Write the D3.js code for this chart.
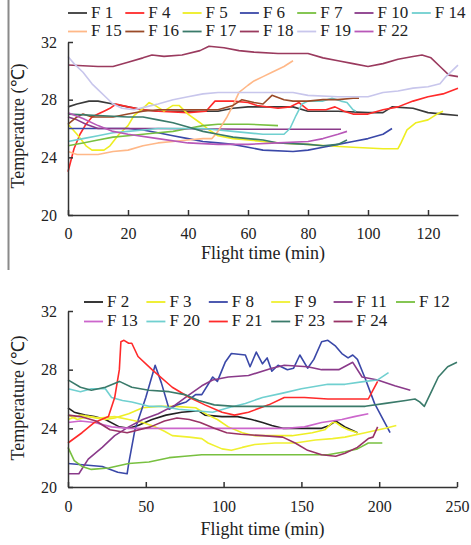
<!DOCTYPE html>
<html><head><meta charset="utf-8">
<script src="https://cdn.jsdelivr.net/npm/d3@7"></script>
<style>body{margin:0;background:#fff}svg{display:block}text{font-family:"Liberation Serif","Times New Roman",serif;fill:#222}</style>
</head><body><svg id="c" width="471" height="545"></svg>
<script>
// ---------- data (minutes, °C) ----------
const yTicks = [20, 24, 28, 32];
const topXTicks = [0, 20, 40, 60, 80, 100, 120];
const botXTicks = [0, 50, 100, 150, 200, 250];

const f1 = [[0,27.5],[3,27.7],[7,27.9],[10,27.9],[15,27.7],[20,27.5],[25,27.3],[30,27.2],[40,27.2],[50,27.2],[55,27.4],[60,27.5],[70,27.5],[75,27.5],[80,27.2],[90,27.2],[100,27.1],[105,27.1],[108,27.5],[115,27.4],[120,27.1],[125,27.0],[130,26.9]];
const f4 = [[0,23.0],[1,23.8],[2,24.6],[4,25.6],[6,26.3],[8,26.8],[10,27.0],[12,27.2],[14,27.4],[16,27.7],[20,27.5],[25,27.3],[30,27.2],[40,27.1],[46,27.2],[49,27.9],[55,27.9],[60,27.8],[63,27.6],[70,27.4],[74,27.5],[77,27.8],[80,27.3],[86,27.3],[89,27.5],[92,27.2],[95,27.0],[100,27.0],[105,27.3],[110,27.5],[115,27.9],[120,28.2],[125,28.4],[130,28.8]];
const f5 = [[0,26.3],[3,25.6],[6,24.8],[8,24.5],[12,24.5],[14,24.8],[17,25.6],[20,26.2],[22,26.9],[25,27.4],[27,27.8],[29,27.6],[32,27.2],[35,27.6],[37,27.6],[40,27.0],[44,26.4],[47,25.9],[50,25.5],[55,25.3],[60,25.2],[65,25.1],[70,25.0],[80,24.9],[86,24.8],[95,24.7],[105,24.6],[110,24.6],[111,25.0],[113,25.9],[116,26.4],[120,26.6],[123,27.0],[125,27.2]];
const f6 = [[0,26.0],[20,26.0],[25,25.9],[30,25.7],[35,25.5],[40,25.3],[45,25.1],[50,25.0],[55,24.9],[60,24.7],[65,24.5],[75,24.4],[80,24.5],[85,24.7],[90,24.9],[95,25.1],[100,25.3],[105,25.6],[108,26.0]];
const f7 = [[0,24.8],[5,25.0],[10,25.2],[15,25.4],[20,25.5],[25,25.6],[30,25.7],[35,25.8],[40,26.0],[45,26.2],[50,26.3],[60,26.3],[70,26.2]];
const f10 = [[0,26.8],[3,26.6],[6,26.3],[10,26.0],[30,26.0],[60,25.95],[91,25.95]];
const f14 = [[0,25.1],[5,25.3],[10,25.5],[15,25.7],[20,25.8],[25,25.9],[30,26.0],[45,26.0],[55,25.8],[65,25.6],[72,25.6],[74,26.0],[76,26.9],[78,27.7],[80,27.9],[85,27.9],[88,28.1],[91,27.9],[93,27.8],[95,27.3],[96,27.2]];
const f15 = [[0,24.4],[3,24.2],[10,24.2],[15,24.4],[20,24.5],[25,24.8],[30,25.0],[35,25.1],[40,25.2],[45,25.3],[48,25.3],[50,25.8],[53,26.8],[55,27.6],[57,28.5],[60,29.0],[62,29.3],[65,29.6],[68,29.9],[72,30.3],[75,30.7]];
const f16 = [[0,26.3],[3,26.8],[5,27.0],[8,26.8],[15,26.8],[20,27.0],[25,27.2],[30,27.3],[50,27.3],[55,27.6],[58,28.0],[62,27.8],[65,27.7],[68,28.3],[72,28.0],[75,27.9],[80,27.9],[85,28.0],[90,28.0],[95,28.1],[97,28.1]];
const f17 = [[0,27.0],[10,26.9],[20,26.8],[25,26.8],[30,26.6],[35,26.4],[40,26.1],[45,25.8],[50,25.6],[55,25.4],[60,25.3],[65,25.2],[70,25.0],[80,24.9],[85,24.8],[90,24.9],[93,25.2]];
const f18 = [[0,30.4],[10,30.3],[15,30.3],[20,30.6],[25,30.9],[28,31.1],[32,31.0],[38,31.1],[44,31.4],[47,31.7],[52,31.6],[57,31.4],[62,31.3],[70,31.2],[80,31.2],[85,30.9],[90,30.7],[95,30.5],[100,30.3],[105,30.5],[110,30.8],[115,31.0],[118,31.1],[121,30.9],[124,30.3],[127,29.7],[130,29.6]];
const f19 = [[0,31.0],[2,30.5],[5,29.9],[8,29.1],[10,28.7],[13,28.1],[15,27.7],[18,27.4],[22,27.3],[26,27.5],[30,27.7],[35,28.0],[40,28.2],[45,28.4],[50,28.5],[60,28.5],[75,28.5],[80,28.3],[90,28.2],[100,28.2],[105,28.5],[110,28.6],[115,28.8],[120,28.9],[124,29.1],[126,29.6],[128,30.0],[130,30.4]];
const f22 = [[0,27.1],[5,26.7],[10,26.2],[15,25.8],[20,25.6],[30,25.3],[40,25.0],[50,24.9],[60,24.9],[70,25.0],[80,25.1],[85,25.3],[90,25.6],[93,25.8]];

const f2 = [[0,25.4],[4,25.1],[11,24.9],[17,24.8],[24,24.6],[33,24.1],[39,24.0],[45,24.2],[54,24.6],[63,24.9],[73,25.1],[84,25.2],[88,24.9],[99,24.8],[109,24.8],[118,24.6],[125,24.4],[131,24.2],[138,24.0],[150,24.0],[163,24.0],[168,24.2],[172,24.5],[178,24.1],[184,23.8],[186,23.7]];
const f3 = [[0,24.9],[6,24.6],[13,24.8],[24,24.6],[30,24.7],[39,25.0],[48,25.4],[58,25.5],[69,25.5],[82,25.4],[90,24.9],[96,24.6],[103,24.1],[112,23.7],[120,23.5],[131,23.5],[144,23.5],[157,23.7],[165,23.9],[170,24.4],[172,24.4],[176,24.1],[180,23.9],[186,23.7]];
const f8 = [[0,21.6],[22,21.4],[32,21.0],[38,20.9],[39,21.6],[43,23.9],[50,26.1],[56,28.3],[60,27.1],[65,25.3],[70,25.6],[76,25.8],[82,26.3],[86,26.3],[93,27.5],[96,27.2],[101,28.5],[105,29.1],[114,29.0],[117,28.2],[121,29.2],[125,28.4],[128,28.8],[131,27.9],[135,28.3],[141,28.0],[145,28.1],[149,29.0],[154,28.1],[158,28.7],[163,29.9],[167,30.0],[172,29.6],[176,29.1],[180,28.8],[183,29.0],[186,28.7],[191,27.4],[197,25.7],[207,23.7]];
const f9 = [[0,24.6],[8,24.9],[20,24.7],[30,24.8],[39,24.6],[48,24.4],[56,24.1],[62,23.8],[67,23.5],[78,23.4],[86,23.3],[90,23.0],[99,22.6],[105,22.5],[112,22.7],[120,22.9],[133,23.0],[146,23.0],[159,23.2],[170,23.3],[178,23.4],[191,23.7],[204,24.0],[211,24.2]];
const f11 = [[0,20.9],[7,20.9],[13,21.9],[22,22.7],[30,23.5],[39,24.1],[48,24.6],[58,25.0],[69,25.6],[78,26.3],[86,26.9],[93,27.3],[103,27.5],[116,27.6],[131,28.1],[139,28.3],[154,28.2],[163,28.0],[174,28.0],[183,28.5],[189,27.5],[199,27.3],[210,26.9],[220,26.6]];
const f12 = [[0,22.7],[4,21.8],[9,21.4],[15,21.2],[26,21.3],[39,21.6],[52,21.7],[65,22.0],[75,22.1],[86,22.2],[120,22.2],[167,22.2],[178,22.4],[186,22.6],[193,23.0],[202,23.0]];
const f13 = [[0,24.4],[8,24.5],[17,24.4],[28,24.1],[39,24.0],[86,24.0],[125,24.0],[140,24.0],[152,24.1],[163,24.4],[176,24.6],[184,24.8],[193,25.0]];
const f20 = [[0,26.7],[8,26.5],[15,26.7],[24,26.7],[28,26.1],[35,25.9],[41,25.8],[52,25.5],[60,25.5],[71,25.3],[82,25.2],[93,25.1],[103,25.4],[114,25.7],[125,26.1],[138,26.4],[150,26.7],[167,27.0],[178,27.0],[191,27.2],[199,27.3],[206,27.8]];
const f21 = [[0,23.0],[9,23.7],[17,24.4],[26,24.8],[30,26.1],[33,28.0],[34,29.9],[36,30.0],[39,29.8],[41,29.8],[45,28.9],[54,28.0],[67,26.8],[78,26.1],[86,25.7],[88,25.6],[99,25.1],[107,24.9],[116,25.1],[129,25.6],[139,26.1],[152,26.1],[167,26.0],[186,26.0],[193,26.0],[196,26.6],[199,27.2]];
const f23 = [[0,27.3],[8,26.8],[15,26.6],[24,26.8],[33,27.2],[41,26.8],[52,26.6],[65,26.5],[75,26.3],[84,25.9],[94,25.6],[107,25.5],[125,25.5],[146,25.5],[167,25.5],[191,25.5],[204,25.7],[217,25.9],[223,26.0],[226,25.8],[229,25.5],[234,26.6],[238,27.5],[244,28.2],[250,28.5]];
const f24 = [[0,24.9],[8,24.8],[18,24.5],[27,23.9],[38,23.7],[53,24.1],[62,24.5],[70,24.7],[78,24.6],[85,24.4],[94,24.0],[102,23.7],[111,23.6],[125,23.5],[138,23.4],[146,23.0],[154,22.5],[163,22.2],[172,22.1],[178,22.3],[186,22.7],[193,23.3],[196,23.4],[199,24.1]];

const topNames = ["F 1","F 4","F 5","F 6","F 7","F 10","F 14","F 15","F 16","F 17","F 18","F 19","F 22"];
const topData = [f1,f4,f5,f6,f7,f10,f14,f15,f16,f17,f18,f19,f22];
const topColors = ["#3a3a3a","#ff2a2a","#eeee22","#3a48a8","#78c040","#8a3a8a","#70d0d0","#ffb888","#9a4a28","#3a7a6a","#9a3a5e","#c8c6ec","#b858b8"];

const botNames = ["F 2","F 3","F 8","F 9","F 11","F 12","F 13","F 20","F 21","F 23","F 24"];
const botData = [f2,f3,f8,f9,f11,f12,f13,f20,f21,f23,f24];
const botColors = ["#222222","#eeee22","#3a48a8","#f0f030","#8a3a8a","#78c040","#cc66cc","#70d0d0","#ff2a2a","#3a7a6a","#993366"];

// ---------- drawing ----------
const svg = d3.select("#c");
svg.append("line").attr("x1",8.5).attr("x2",8.5).attr("y1",0).attr("y2",270)
  .attr("stroke","#8a8a8a").attr("stroke-width",2);

function panel(o){
  const x = d3.scaleLinear().domain(o.xDomain).range([68, o.xRight]);
  const y = d3.scaleLinear().domain([20,32]).range([o.yBottom, o.yTop]);
  const g = svg.append("g");
  const line = d3.line().x(d=>x(d[0])).y(d=>y(d[1]));
  o.data.forEach((s,i)=>{
    g.append("path").datum(s).attr("d",line).attr("fill","none")
      .attr("stroke",o.colors[i]).attr("stroke-width",1.6).attr("stroke-linejoin","round");
  });
  const ax = g.append("g").attr("transform",`translate(0,${o.yBottom})`)
    .call(d3.axisBottom(x).tickValues(o.xTicks).tickSizeInner(-5).tickSizeOuter(0).tickPadding(o.xPad));
  const ay = g.append("g").attr("transform","translate(68,0)")
    .call(d3.axisLeft(y).tickValues(yTicks).tickSizeInner(-5).tickSizeOuter(0).tickPadding(11));
  [ax,ay].forEach(a=>{
    a.selectAll("path,line").attr("stroke","#333").attr("stroke-width",1.5);
    a.selectAll("text").attr("font-size",16).attr("font-family","Liberation Serif").attr("fill","#222");
  });
  g.append("text").attr("x",(68+o.xRight)/2).attr("y",o.xTitleY).attr("text-anchor","middle")
    .attr("font-size",18).text("Flight time (min)");
  g.append("text").attr("transform",`translate(23.5,${o.yTitleC}) rotate(-90)`).attr("text-anchor","middle")
    .attr("font-size",18).text("Temperature (\u2103)");
  // legend
  o.names.forEach((n,i)=>{
    const r = Math.floor(i/o.perRow), c = i%o.perRow;
    const lx = o.legX + c*o.legStep, ly = o.legY[r];
    g.append("line").attr("x1",lx).attr("x2",lx+19).attr("y1",ly-4.5).attr("y2",ly-4.5)
      .attr("stroke",o.colors[i]).attr("stroke-width",1.8);
    g.append("text").attr("x",lx+23).attr("y",ly).attr("font-size",17).text(n);
  });
}

panel({xDomain:[0,130], xRight:458, yTop:42, yBottom:215, data:topData, colors:topColors, names:topNames,
  xTicks:topXTicks, xPad:12.5, xTitleY:259, yTitleC:126, perRow:7, legX:68, legStep:57.3, legY:[17.5,36]});
panel({xDomain:[0,250], xRight:457, yTop:311, yBottom:487, data:botData, colors:botColors, names:botNames,
  xTicks:botXTicks, xPad:14, xTitleY:535, yTitleC:398, perRow:6, legX:84, legStep:62.4, legY:[306.5,326]});
</script></body></html>
